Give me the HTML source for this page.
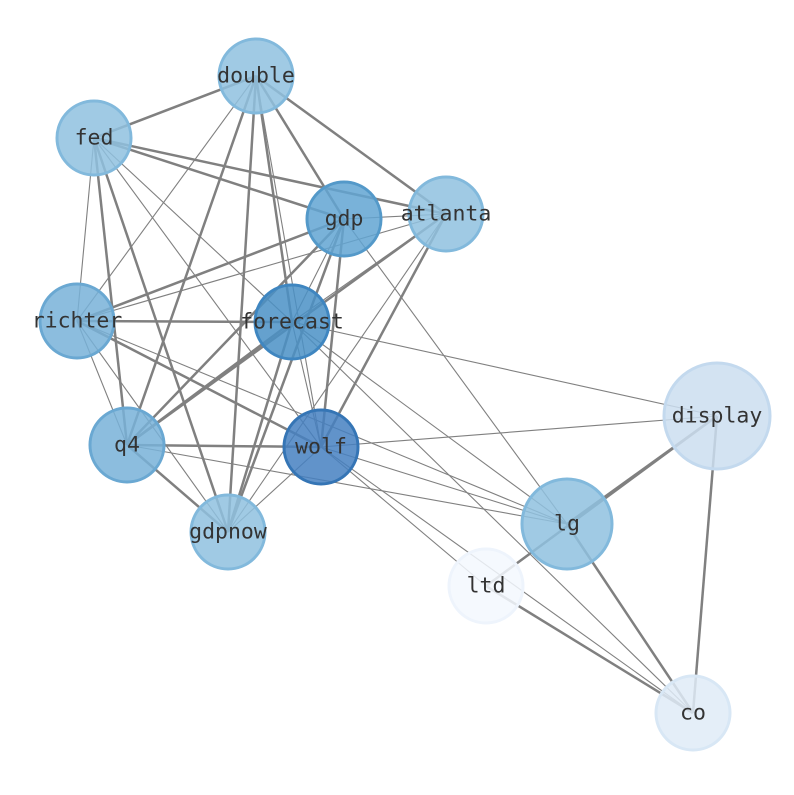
<!DOCTYPE html>
<html><head><meta charset="utf-8"><style>html,body{margin:0;padding:0;background:#fff}</style></head><body>
<svg width="794" height="790" xmlns="http://www.w3.org/2000/svg">
<g stroke="#808080" fill="none">
<g stroke-width="2.5">
<line x1="256" y1="76" x2="94" y2="138"/>
<line x1="256" y1="76" x2="344" y2="219"/>
<line x1="256" y1="76" x2="446" y2="214"/>
<line x1="256" y1="76" x2="292" y2="322"/>
<line x1="256" y1="76" x2="127" y2="445"/>
<line x1="256" y1="76" x2="228" y2="532"/>
<line x1="94" y1="138" x2="344" y2="219"/>
<line x1="94" y1="138" x2="446" y2="214"/>
<line x1="94" y1="138" x2="127" y2="445"/>
<line x1="94" y1="138" x2="228" y2="532"/>
<line x1="344" y1="219" x2="77" y2="321"/>
<line x1="344" y1="219" x2="127" y2="445"/>
<line x1="344" y1="219" x2="321" y2="447"/>
<line x1="344" y1="219" x2="228" y2="532"/>
<line x1="446" y1="214" x2="127" y2="445"/>
<line x1="446" y1="214" x2="321" y2="447"/>
<line x1="77" y1="321" x2="292" y2="322"/>
<line x1="77" y1="321" x2="321" y2="447"/>
<line x1="292" y1="322" x2="228" y2="532"/>
<line x1="292" y1="322" x2="127" y2="445"/>
<line x1="127" y1="445" x2="321" y2="447"/>
<line x1="127" y1="445" x2="228" y2="532"/>
<line x1="717" y1="416" x2="567" y2="524"/>
<line x1="717" y1="416" x2="486" y2="586"/>
<line x1="717" y1="416" x2="693" y2="713"/>
<line x1="567" y1="524" x2="693" y2="713"/>
<line x1="486" y1="586" x2="693" y2="713"/>
</g>
<g stroke-width="1.1">
<line x1="256" y1="76" x2="321" y2="447"/>
<line x1="256" y1="76" x2="77" y2="321"/>
<line x1="94" y1="138" x2="321" y2="447"/>
<line x1="94" y1="138" x2="292" y2="322"/>
<line x1="94" y1="138" x2="77" y2="321"/>
<line x1="344" y1="219" x2="446" y2="214"/>
<line x1="344" y1="219" x2="567" y2="524"/>
<line x1="344" y1="219" x2="292" y2="322"/>
<line x1="446" y1="214" x2="77" y2="321"/>
<line x1="446" y1="214" x2="228" y2="532"/>
<line x1="446" y1="214" x2="292" y2="322"/>
<line x1="77" y1="321" x2="127" y2="445"/>
<line x1="77" y1="321" x2="228" y2="532"/>
<line x1="77" y1="321" x2="567" y2="524"/>
<line x1="292" y1="322" x2="717" y2="416"/>
<line x1="292" y1="322" x2="567" y2="524"/>
<line x1="292" y1="322" x2="693" y2="713"/>
<line x1="292" y1="322" x2="321" y2="447"/>
<line x1="127" y1="445" x2="567" y2="524"/>
<line x1="321" y1="447" x2="717" y2="416"/>
<line x1="321" y1="447" x2="567" y2="524"/>
<line x1="321" y1="447" x2="693" y2="713"/>
<line x1="321" y1="447" x2="486" y2="586"/>
<line x1="321" y1="447" x2="228" y2="532"/>
</g>
</g>
<g stroke-width="3" fill-opacity="0.85">
<circle cx="256" cy="76" r="37" fill="#8fc1df" stroke="#82b9dc"/>
<circle cx="94" cy="138" r="37" fill="#8fc1df" stroke="#82b9dc"/>
<circle cx="446" cy="214" r="37" fill="#8fc1df" stroke="#82b9dc"/>
<circle cx="344" cy="219" r="37" fill="#62a5d2" stroke="#5499c9"/>
<circle cx="77" cy="321" r="37" fill="#78b1d8" stroke="#6aa8d2"/>
<circle cx="292" cy="322" r="37" fill="#4a90c6" stroke="#3f86c0"/>
<circle cx="717" cy="416" r="53" fill="#cbdef0" stroke="#c3d9ee"/>
<circle cx="127" cy="445" r="37" fill="#78b1d8" stroke="#6aa8d2"/>
<circle cx="321" cy="447" r="37" fill="#4580c1" stroke="#3575b5"/>
<circle cx="567" cy="524" r="45" fill="#8fc1df" stroke="#82b9dc"/>
<circle cx="228" cy="532" r="37" fill="#8fc1df" stroke="#82b9dc"/>
<circle cx="486" cy="586" r="37" fill="#f3f8fe" stroke="#eef4fc"/>
<circle cx="693" cy="713" r="37" fill="#dfebf7" stroke="#d8e7f5"/>
</g>
<g font-family="'DejaVu Sans Mono','Liberation Mono',monospace" font-size="21.5" fill="#333" text-anchor="middle" dominant-baseline="central">
<text x="256" y="76">double</text>
<text x="94" y="138">fed</text>
<text x="446" y="214">atlanta</text>
<text x="344" y="219">gdp</text>
<text x="77" y="321">richter</text>
<text x="292" y="322">forecast</text>
<text x="717" y="416">display</text>
<text x="127" y="445">q4</text>
<text x="321" y="447">wolf</text>
<text x="567" y="524">lg</text>
<text x="228" y="532">gdpnow</text>
<text x="486" y="586">ltd</text>
<text x="693" y="713">co</text>
</g>
</svg>
</body></html>
